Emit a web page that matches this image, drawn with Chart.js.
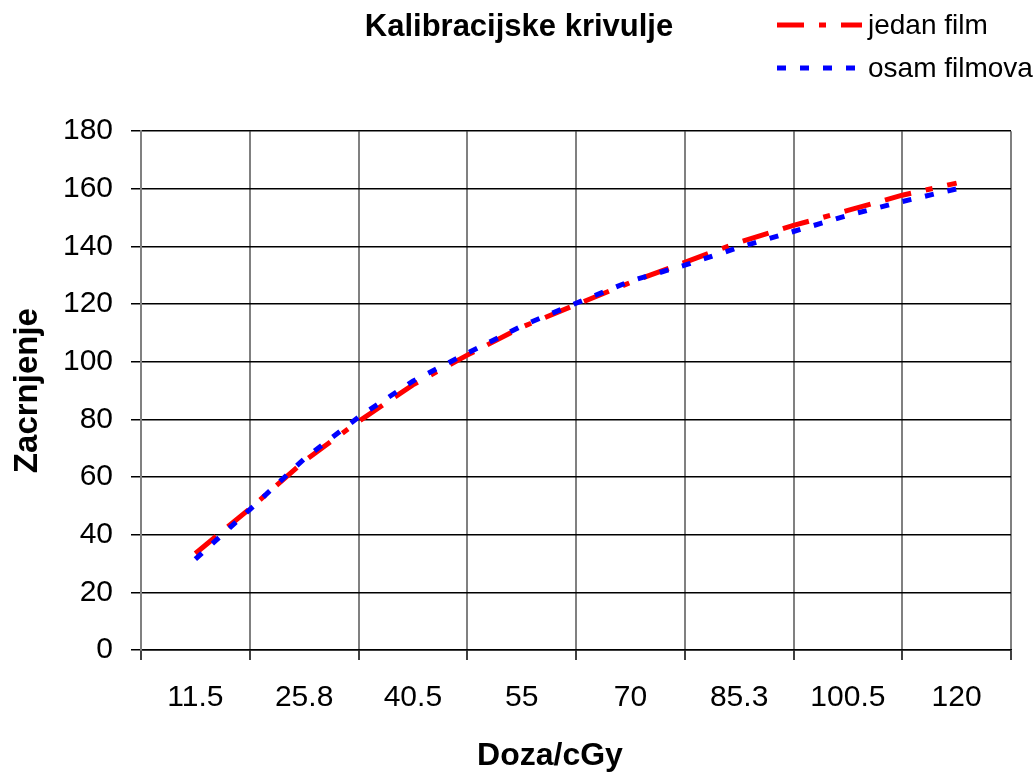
<!DOCTYPE html>
<html>
<head>
<meta charset="utf-8">
<title>Kalibracijske krivulje</title>
<script src="https://cdn.jsdelivr.net/npm/chart.js@4/dist/chart.umd.min.js"></script>
<style>
  html, body { margin: 0; padding: 0; background: #fff; }
  #wrap { width: 1033px; height: 773px; }
</style>
</head>
<body>
<div id="wrap"><canvas id="krivulje" width="1033" height="773"></canvas></div>
<script>
    // doses shown on the axis (every second measured point carries a label)
    const doseLabels = ['11.5', '25.8', '40.5', '55', '70', '85.3', '100.5', '120'];
    // position of each measured point on the dose axis, in label steps
    const pointPos = [0, 0.5, 1, 1.5, 2, 2.5, 3, 3.5, 4, 4.5, 5, 5.5, 6, 6.5, 7];

    const jedanFilm  = [33.5, 49, 65.5, 79.3, 92, 102.3, 112, 119.8, 127.5, 134.5, 141.5, 147.3, 152.5, 157.8, 162];
    const osamFilmova = [31.5, 48.7, 66.3, 80.8, 93.3, 103, 112.4, 120.3, 128, 133.5, 139.7, 145.2, 150.8, 155.6, 160];

    const yTicks = { min: 0, max: 180, step: 20 };
    const xTitle = 'Doza/cGy';

    const FONT = 'Arial, "Liberation Sans", sans-serif';

    const toPoints = vals => vals.map((v, i) => ({ x: pointPos[i], y: v }));

    // Excel style legend (dashed sample + label, stacked top right) and the x axis title,
    // which Excel centres on the whole chart rather than on the plot area
    const excelBits = {
        id: 'excelBits',
        afterDraw(chart) {
            const ctx = chart.ctx;
            ctx.save();
            chart.data.datasets.forEach((ds, i) => {
                const y = 25 + i * 43;
                ctx.strokeStyle = ds.borderColor;
                ctx.lineWidth = ds.borderWidth;
                ctx.lineCap = 'butt';
                ctx.setLineDash(ds.borderDash);
                ctx.lineDashOffset = ds.legendDashOffset || 0;
                ctx.beginPath();
                ctx.moveTo(777, y);
                ctx.lineTo(862, y);
                ctx.stroke();
                ctx.setLineDash([]);
                ctx.fillStyle = '#000';
                ctx.font = `28px ${FONT}`;
                ctx.textBaseline = 'middle';
                ctx.textAlign = 'left';
                ctx.fillText(ds.label, 868, y + 1);
            });
            ctx.font = `bold 32px ${FONT}`;
            ctx.textAlign = 'center';
            ctx.textBaseline = 'middle';
            ctx.fillStyle = '#000';
            ctx.fillText(xTitle, 550, 756);
            ctx.restore();
        }
    };

    new Chart(document.getElementById('krivulje'), {
        type: 'line',
        data: {
            datasets: [{
                label: 'jedan film',
                data: toPoints(jedanFilm),
                xAxisID: 'xData',
                borderColor: '#ff0000',
                borderWidth: 5,
                borderDash: [27, 15, 27, 15, 7, 15],
                legendDashOffset: 42,
                borderCapStyle: 'butt',
                pointRadius: 0,
                tension: 0,
                order: 1
            }, {
                label: 'osam filmova',
                data: toPoints(osamFilmova),
                xAxisID: 'xData',
                borderColor: '#0000ff',
                borderWidth: 5,
                borderDash: [9, 14],
                borderCapStyle: 'butt',
                pointRadius: 0,
                tension: 0,
                order: 0
            }]
        },
        options: {
            responsive: false,
            devicePixelRatio: 1,
            animation: false,
            // left padding keeps the chart title where Excel puts it
            layout: { padding: { left: 27, right: 22, top: 0, bottom: 0 } },
            plugins: {
                legend: { display: false },
                tooltip: { enabled: false },
                title: {
                    display: true,
                    text: 'Kalibracijske krivulje',
                    color: '#000',
                    font: { family: FONT, size: 31, weight: 'bold' },
                    padding: { top: 9, bottom: 85 }
                }
            },
            scales: {
                x: {
                    type: 'category',
                    labels: doseLabels,
                    offset: true,
                    afterFit: s => { s.height = 123; },
                    grid: { offset: true, color: '#808080', lineWidth: 2, tickLength: 10, tickColor: '#404040' },
                    border: { color: '#000', width: 1.5 },
                    ticks: { color: '#000', font: { family: FONT, size: 30 }, padding: 20, maxRotation: 0, autoSkip: false }
                },
                xData: {
                    type: 'linear',
                    display: false,
                    min: pointPos[0] - 0.5,
                    max: pointPos[pointPos.length - 1] + 0.5
                },
                y: {
                    min: yTicks.min,
                    max: yTicks.max,
                    afterFit: s => { s.width = 114; },
                    grid: { color: '#000', lineWidth: 1.5, tickLength: 10 },
                    border: { color: '#808080', width: 2 },
                    ticks: { stepSize: yTicks.step, color: '#000', font: { family: FONT, size: 30 }, padding: 18 },
                    title: {
                        display: true, text: 'Zacrnjenje', color: '#000',
                        font: { family: FONT, size: 33, weight: 'bold' },
                        padding: { top: -19, bottom: 0 }
                    }
                }
            }
        },
        plugins: [excelBits]
    });
</script>
</body>
</html>
